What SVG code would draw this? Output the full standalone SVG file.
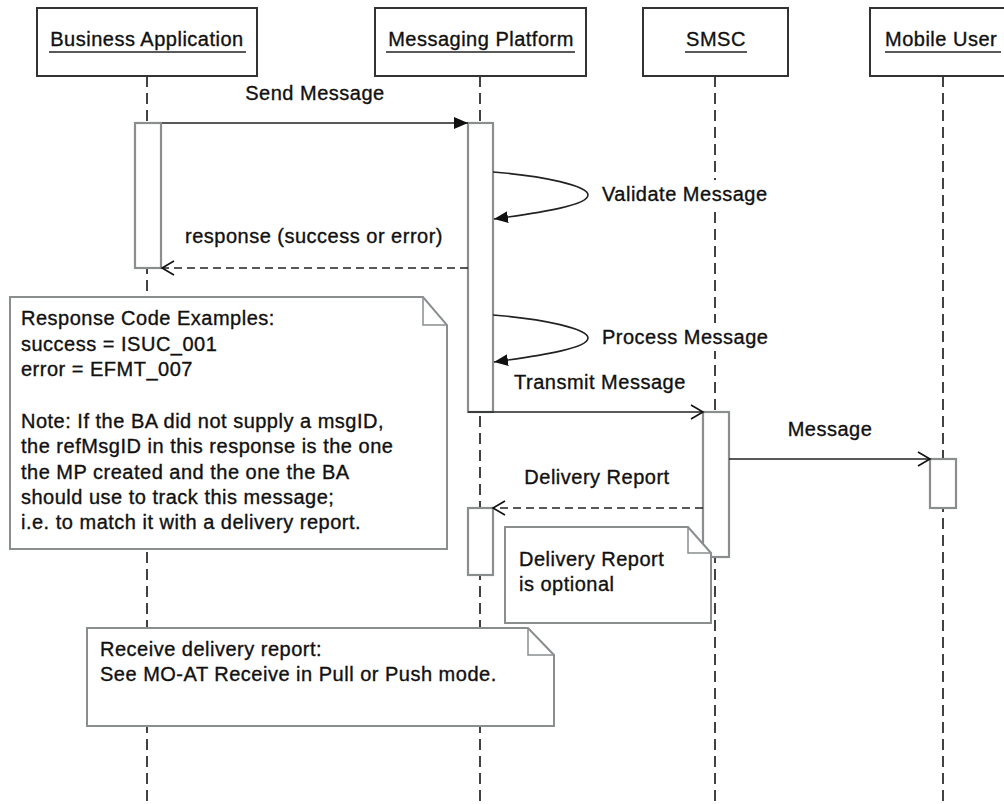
<svg xmlns="http://www.w3.org/2000/svg" width="1004" height="804" viewBox="0 0 1004 804">
<defs>
<style>
text{font-family:"Liberation Sans",Arial,sans-serif;font-size:20px;fill:#111;letter-spacing:0.5px;stroke:#111;stroke-width:0.35px}
.head{fill:#fff;stroke:#333;stroke-width:2}
.ul{stroke:#222;stroke-width:1.5}
.life{stroke:#222;stroke-width:1.7;stroke-dasharray:11 6;fill:none}
.act{fill:#fff;stroke:#8a8e8e;stroke-width:2.2}
.note{fill:#fff;stroke:#8a8e8e;stroke-width:2}
.fold{fill:none;stroke:#8a8e8e;stroke-width:1.5}
.msg{stroke:#222;stroke-width:1.6;fill:none}
.ret{stroke:#222;stroke-width:1.6;fill:none;stroke-dasharray:8 5}
.bg{fill:#fff}
</style>
<marker id="filled" markerUnits="userSpaceOnUse" markerWidth="16" markerHeight="14" refX="14" refY="6" orient="auto">
<path d="M0,0 L14,6 L0,12 Z" fill="#111"/>
</marker>
<marker id="open" markerUnits="userSpaceOnUse" markerWidth="16" markerHeight="18" refX="13" refY="8" orient="auto">
<path d="M1,1 L13,8 L1,15" fill="none" stroke="#111" stroke-width="1.6"/>
</marker>
</defs>
<rect width="1004" height="804" fill="#fff"/>

<g id="lifelines">
<line class="life" x1="147" y1="76" x2="147" y2="804"/>
<line class="life" x1="480" y1="76" x2="480" y2="804"/>
<line class="life" x1="715" y1="76" x2="715" y2="804"/>
<line class="life" x1="943" y1="76" x2="943" y2="804"/>
</g>

<g id="business-application">
<rect class="head" x="37" y="8" width="220" height="68"/>
<text x="147" y="46" text-anchor="middle">Business Application</text>
<line class="ul" x1="49" y1="52" x2="246" y2="52"/>
</g>
<g id="messaging-platform">
<rect class="head" x="375" y="8" width="211" height="68"/>
<text x="481" y="46" text-anchor="middle">Messaging Platform</text>
<line class="ul" x1="386" y1="52" x2="575" y2="52"/>
</g>
<g id="smsc">
<rect class="head" x="643" y="8" width="145" height="68"/>
<text x="716" y="46" text-anchor="middle">SMSC</text>
<line class="ul" x1="685" y1="52" x2="747" y2="52"/>
</g>
<g id="mobile-user">
<rect class="head" x="870" y="8" width="146" height="68"/>
<text x="885" y="46">Mobile User</text>
<line class="ul" x1="885" y1="52" x2="1001" y2="52"/>
</g>

<g id="activations">
<rect id="act-ba" class="act" x="135" y="123" width="26" height="145"/>
<rect id="act-mp1" class="act" x="468" y="123" width="25" height="289"/>
<rect id="act-mp2" class="act" x="468" y="508" width="25" height="67"/>
<rect id="act-smsc" class="act" x="703" y="412" width="26" height="145"/>
<rect id="act-mu" class="act" x="930" y="459" width="26" height="49"/>
</g>

<g id="connectors">
<line class="msg" x1="162" y1="123" x2="468" y2="123" marker-end="url(#filled)"/>
<line class="ret" x1="468" y1="268" x2="162" y2="268" marker-end="url(#open)"/>
<path class="msg" d="M493,172 C545,176 588,186 588,195 C588,205 545,212 494,219" marker-end="url(#filled)"/>
<path class="msg" d="M493,315 C545,319 588,329 588,338 C588,348 545,355 494,362" marker-end="url(#filled)"/>
<line class="msg" x1="468" y1="412" x2="703" y2="412" marker-end="url(#open)"/>
<line class="msg" x1="729" y1="459" x2="930" y2="459" marker-end="url(#open)"/>
<line class="ret" x1="703" y1="508" x2="493" y2="508" marker-end="url(#open)"/>
</g>

<g id="labels">
<text x="315" y="100" text-anchor="middle">Send Message</text>
<text x="314" y="243" text-anchor="middle">response (success or error)</text>
<rect class="bg" x="598" y="180" width="174" height="28"/>
<text x="602" y="201">Validate Message</text>
<rect class="bg" x="598" y="323" width="174" height="28"/>
<text x="602" y="344">Process Message</text>
<text x="514" y="389">Transmit Message</text>
<text x="830" y="436" text-anchor="middle">Message</text>
<text x="597" y="484" text-anchor="middle">Delivery Report</text>
</g>

<g id="note-response-codes">
<path class="note" d="M10,297 L423,297 L447,325 L447,549 L10,549 Z"/>
<path class="fold" d="M423,297 L423,325 L447,325"/>
<text x="21" y="325">Response Code Examples:</text>
<text x="21" y="351">success = ISUC_001</text>
<text x="21" y="376">error = EFMT_007</text>
<text x="21" y="428">Note: If the BA did not supply a msgID,</text>
<text x="21" y="453">the refMsgID in this response is the one</text>
<text x="21" y="479">the MP created and the one the BA</text>
<text x="21" y="504">should use to track this message;</text>
<text x="21" y="529">i.e. to match it with a delivery report.</text>
</g>

<g id="note-delivery-optional">
<path class="note" d="M505,527 L688,527 L711,553 L711,623 L505,623 Z"/>
<path class="fold" d="M688,527 L688,553 L711,553"/>
<text x="519" y="566">Delivery Report</text>
<text x="519" y="591">is optional</text>
</g>

<g id="note-receive">
<path class="note" d="M87,628 L528,628 L554,655 L554,726 L87,726 Z"/>
<path class="fold" d="M528,628 L528,655 L554,655"/>
<text x="100" y="656">Receive delivery report:</text>
<text x="100" y="681">See MO-AT Receive in Pull or Push mode.</text>
</g>
</svg>
